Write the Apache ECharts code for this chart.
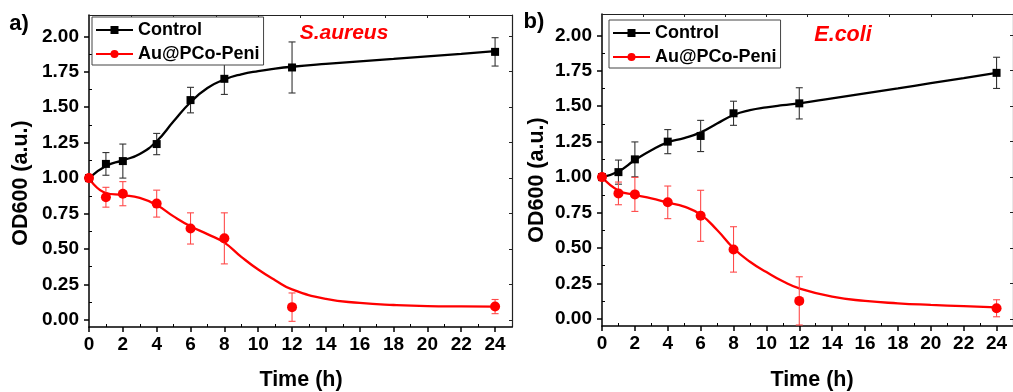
<!DOCTYPE html>
<html>
<head>
<meta charset="utf-8">
<script src="https://cdn.jsdelivr.net/npm/echarts@6/dist/echarts.min.js"></script>
<style>
  html, body { margin: 0; padding: 0; background: #fff; }
  #chart { width: 1013px; height: 392px; }
</style>
</head>
<body>
<div id="chart"></div>
<script>
// Sampling times (h)
const sampleTimes = [0, 1, 2, 4, 6, 8, 12, 24];

// S. aureus: OD600 means and standard deviations
const aureusControl     = [1.00, 1.10, 1.12, 1.24, 1.55, 1.70, 1.78, 1.89];
const aureusControlErr  = [0, 0.08, 0.12, 0.075, 0.09, 0.11, 0.18, 0.10];
const aureusTreated     = [1.00, 0.865, 0.89, 0.82, 0.645, 0.575, 0.09, 0.094];
const aureusTreatedErr  = [0, 0.07, 0.085, 0.095, 0.11, 0.18, 0.10, 0.05];

// E. coli: OD600 means and standard deviations
const coliControl       = [1.00, 1.035, 1.125, 1.25, 1.29, 1.45, 1.52, 1.735];
const coliControlErr    = [0, 0.085, 0.123, 0.085, 0.11, 0.085, 0.11, 0.11];
const coliTreated       = [1.00, 0.885, 0.878, 0.822, 0.727, 0.49, 0.127, 0.075];
const coliTreatedErr    = [0, 0.08, 0.12, 0.115, 0.18, 0.16, 0.17, 0.06];

// Fitted growth curves, sampled along time
const fitTimes          = [0, 1, 2, 3, 4, 5, 6, 7, 8, 9, 10, 11, 12, 14, 16, 18, 20, 22, 24];
const aureusControlFit  = [1.00, 1.085, 1.125, 1.17, 1.26, 1.40, 1.535, 1.635, 1.695, 1.732, 1.755, 1.772, 1.785, 1.805, 1.823, 1.84, 1.858, 1.876, 1.895];
const aureusTreatedFit  = [1.00, 0.895, 0.88, 0.86, 0.81, 0.73, 0.66, 0.605, 0.545, 0.445, 0.355, 0.28, 0.215, 0.148, 0.12, 0.105, 0.097, 0.095, 0.094];
const coliControlFit    = [1.00, 1.04, 1.12, 1.19, 1.245, 1.275, 1.315, 1.378, 1.438, 1.472, 1.492, 1.507, 1.52, 1.555, 1.59, 1.625, 1.662, 1.698, 1.735];
const coliTreatedFit    = [1.00, 0.905, 0.875, 0.85, 0.82, 0.792, 0.735, 0.627, 0.498, 0.403, 0.33, 0.265, 0.215, 0.157, 0.127, 0.11, 0.099, 0.09, 0.082];

// Tick positions and labels
const xTicks      = [0, 2, 4, 6, 8, 10, 12, 14, 16, 18, 20, 22, 24];
const xMinorTicks = [1, 3, 5, 7, 9, 11, 13, 15, 17, 19, 21, 23];
const xTopTicks   = [2.5, 5, 7.5, 10, 12.5, 15, 17.5, 20, 22.5];
const yTicks      = [0, 0.25, 0.5, 0.75, 1, 1.25, 1.5, 1.75, 2];
const yMinorTicks = [0.125, 0.375, 0.625, 0.875, 1.125, 1.375, 1.625, 1.875];

const seriesNames = ['Control', 'Au@PCo-Peni'];
const FONT = '"Liberation Sans", Arial, sans-serif';
const BLACK = '#000000';
const RED = '#ff0000';

const chart = echarts.init(document.getElementById('chart'), null, { renderer: 'canvas' });

const grids = [
  { left: 89, top: 15, width: 423, height: 312 },
  { left: 602, top: 14, width: 421, height: 312 }
];

function xAxesFor(g) {
  const base = { type: 'value', gridIndex: g, min: 0, max: 25, splitLine: { show: false } };
  return [
    Object.assign({}, base, {
      position: 'bottom',
      axisLine: { show: true, onZero: false, lineStyle: { color: BLACK, width: 1.5 } },
      axisTick: { show: true, customValues: xTicks, inside: false, length: 5, lineStyle: { color: BLACK, width: 1.5 } },
      axisLabel: { show: true, customValues: xTicks, margin: 8, color: BLACK, fontSize: 19, fontWeight: 'bold', fontFamily: FONT }
    }),
    Object.assign({}, base, {
      position: 'bottom',
      axisLine: { show: false, onZero: false },
      axisTick: { show: true, customValues: xMinorTicks, inside: true, length: 3, lineStyle: { color: BLACK, width: 1 } },
      axisLabel: { show: false }
    }),
    Object.assign({}, base, {
      position: 'top',
      axisLine: { show: true, onZero: false, lineStyle: { color: '#222', width: 1.2 } },
      axisTick: { show: true, customValues: xTopTicks, inside: true, length: 3, lineStyle: { color: '#222', width: 1 } },
      axisLabel: { show: false }
    })
  ];
}

function yAxesFor(g) {
  const base = { type: 'value', gridIndex: g, min: -0.05, max: 2.15, splitLine: { show: false } };
  return [
    Object.assign({}, base, {
      position: 'left',
      axisLine: { show: true, onZero: false, lineStyle: { color: BLACK, width: 1.5 } },
      axisTick: { show: true, customValues: yTicks, inside: false, length: 5, lineStyle: { color: BLACK, width: 1.5 } },
      axisLabel: { show: true, customValues: yTicks, margin: 10, color: BLACK, fontSize: 19, fontWeight: 'bold', fontFamily: FONT,
                   formatter: v => Number(v).toFixed(2) }
    }),
    Object.assign({}, base, {
      position: 'left',
      axisLine: { show: false, onZero: false },
      axisTick: { show: true, customValues: yMinorTicks, inside: true, length: 3, lineStyle: { color: BLACK, width: 1 } },
      axisLabel: { show: false }
    }),
    Object.assign({}, base, {
      position: 'right',
      axisLine: { show: true, onZero: false, lineStyle: { color: '#222', width: 1.2 } },
      axisTick: { show: true, customValues: yTicks, inside: true, length: 3, lineStyle: { color: '#222', width: 1 } },
      axisLabel: { show: false }
    })
  ];
}

function pairs(xs, ys) { return xs.map((x, i) => [x, ys[i]]); }
function triples(xs, ys, es) { return xs.map((x, i) => [x, ys[i], es[i]]); }

function fitSeries(name, axisIdx, ys, color, symbol, size) {
  return {
    name, type: 'line', xAxisIndex: axisIdx, yAxisIndex: axisIdx,
    data: pairs(fitTimes, ys), smooth: 0.5,
    showSymbol: false, symbol, symbolSize: size,
    lineStyle: { color, width: 2.3 }, itemStyle: { color },
    z: 2, silent: true
  };
}

function errorSeries(axisIdx, ys, es, color) {
  return {
    type: 'custom', xAxisIndex: axisIdx, yAxisIndex: axisIdx,
    data: triples(sampleTimes, ys, es), z: 3, silent: true,
    renderItem: (params, api) => {
      const x = api.value(0), y = api.value(1), e = api.value(2);
      if (!e) return null;
      const hi = api.coord([x, y + e]);
      const lo = api.coord([x, y - e]);
      const hw = 3.5;
      const style = { stroke: color, lineWidth: 1.1 };
      return {
        type: 'group',
        children: [
          { type: 'line', shape: { x1: hi[0], y1: hi[1], x2: lo[0], y2: lo[1] }, style },
          { type: 'line', shape: { x1: hi[0] - hw, y1: hi[1], x2: hi[0] + hw, y2: hi[1] }, style },
          { type: 'line', shape: { x1: lo[0] - hw, y1: lo[1], x2: lo[0] + hw, y2: lo[1] }, style }
        ]
      };
    }
  };
}

function pointSeries(name, axisIdx, ys, color, symbol, size) {
  return {
    name, type: 'scatter', xAxisIndex: axisIdx, yAxisIndex: axisIdx,
    data: pairs(sampleTimes, ys), symbol, symbolSize: size,
    itemStyle: { color, opacity: 1 }, z: 4, silent: true
  };
}

function legendFor(left, top) {
  return {
    data: seriesNames, orient: 'vertical', left, top,
    itemWidth: 37, itemHeight: 10, itemGap: 4,
    padding: [3, 4, 1, 3],
    borderColor: '#444', borderWidth: 1, backgroundColor: '#fff',
    selectedMode: false,
    textStyle: { color: BLACK, fontSize: 18, fontWeight: 'bold', fontFamily: FONT, lineHeight: 20 }
  };
}

function textEl(text, x, y, font, opts) {
  return Object.assign({
    type: 'text', x, y, silent: true, z: 10,
    style: { text, font, fill: BLACK, align: 'center', verticalAlign: 'middle' }
  }, opts || {});
}

const titleFont = 'bold 21.5px ' + FONT;

const option = {
  animation: false,
  backgroundColor: '#fff',
  grid: grids,
  xAxis: xAxesFor(0).concat(xAxesFor(1)),
  yAxis: yAxesFor(0).concat(yAxesFor(1)),
  legend: [legendFor(92, 17), legendFor(609, 20)],
  series: [
    fitSeries(seriesNames[0], 0, aureusControlFit, BLACK, 'rect', 8),
    fitSeries(seriesNames[1], 0, aureusTreatedFit, RED, 'circle', 10),
    fitSeries(seriesNames[0], 3, coliControlFit, BLACK, 'rect', 8),
    fitSeries(seriesNames[1], 3, coliTreatedFit, RED, 'circle', 10),
    errorSeries(0, aureusControl, aureusControlErr, '#333'),
    errorSeries(0, aureusTreated, aureusTreatedErr, '#ff4a4a'),
    errorSeries(3, coliControl, coliControlErr, '#333'),
    errorSeries(3, coliTreated, coliTreatedErr, '#ff4a4a'),
    pointSeries('Control data', 0, aureusControl, BLACK, 'rect', 8),
    pointSeries('Au@PCo-Peni data', 0, aureusTreated, RED, 'circle', 10),
    pointSeries('Control data', 3, coliControl, BLACK, 'rect', 8),
    pointSeries('Au@PCo-Peni data', 3, coliTreated, RED, 'circle', 10)
  ],
  graphic: [
    textEl('a)', 19, 24, 'bold 22px ' + FONT),
    textEl('b)', 534, 22, 'bold 22px ' + FONT),
    textEl('OD600 (a.u.)', 21.5, 183, titleFont, { rotation: Math.PI / 2 }),
    textEl('OD600 (a.u.)', 537, 180, titleFont, { rotation: Math.PI / 2 }),
    textEl('Time (h)', 301, 380, titleFont),
    textEl('Time (h)', 812, 380, titleFont),
    { type: 'text', x: 344, y: 33, silent: true, z: 10,
      style: { text: 'S.aureus', font: 'italic bold 21px ' + FONT, fill: RED, align: 'center', verticalAlign: 'middle' } },
    { type: 'text', x: 843, y: 35, silent: true, z: 10,
      style: { text: 'E.coli', font: 'italic bold 21.5px ' + FONT, fill: RED, align: 'center', verticalAlign: 'middle' } }
  ]
};

chart.setOption(option);
</script>
</body>
</html>
